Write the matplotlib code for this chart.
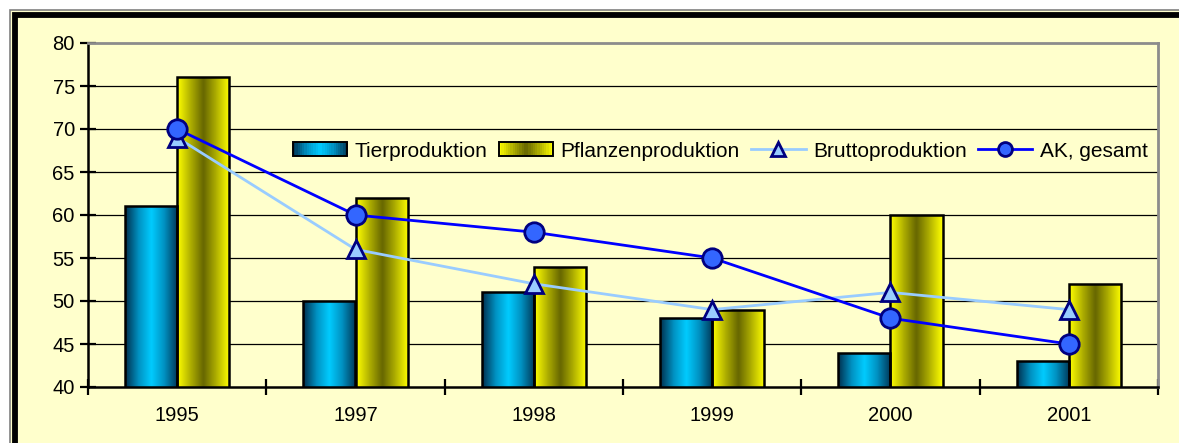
import matplotlib
matplotlib.use('Agg')
import matplotlib.pyplot as plt
import numpy as np
from matplotlib.patches import Rectangle
from matplotlib.colors import LinearSegmentedColormap
from matplotlib.legend_handler import HandlerBase
from matplotlib.lines import Line2D

plt.rcParams['font.family'] = ['Liberation Sans', 'DejaVu Sans']

years  = ['1995', '1997', '1998', '1999', '2000', '2001']
tier   = [61, 50, 51, 48, 44, 43]
pflanz = [76, 62, 54, 49, 60, 52]
brutto = [69, 56, 52, 49, 51, 49]
ak     = [70, 60, 58, 55, 48, 45]

bg = '#FFFFCC'
cm_blue = LinearSegmentedColormap.from_list('b', ['#00304f', '#0090c0', '#00ccff', '#0090c0', '#003858'])
cm_yell = LinearSegmentedColormap.from_list('y', ['#ffff00', '#b0b000', '#666600', '#b0b000', '#ffff00'])
grad = np.linspace(0, 1, 64).reshape(1, -1)

W, H = 1179, 443
fig = plt.figure(figsize=(W/100, H/100), dpi=100, facecolor='white')

# outer frame (runs off right and bottom edge)
fig.patches.append(Rectangle((10/W, -0.2), 1.2, (H - 10)/H + 0.2, transform=fig.transFigure,
                             facecolor=bg, edgecolor='#808080', lw=1.2, zorder=-2))
fig.patches.append(Rectangle((14.5/W, -0.2), 1.2, (H - 14.5)/H + 0.2, transform=fig.transFigure,
                             facecolor='none', edgecolor='black', lw=4.2, zorder=-1))

ax = fig.add_axes([88/W, (H - 387)/H, (1158 - 88)/W, (387 - 43)/H])
ax.set_facecolor(bg)

x = np.arange(len(years))
w = 0.292

def gradient_bars(xs, vals, cmap):
    bars = ax.bar(xs, vals, width=w, bottom=0, color='none', edgecolor='black', lw=1.8, zorder=3)
    for b in bars:
        x0, x1 = b.get_x(), b.get_x() + b.get_width()
        im = ax.imshow(grad, cmap=cmap, aspect='auto', extent=[x0, x1, 40, b.get_height()],
                       zorder=2, interpolation='bicubic')
        im.set_clip_path(b)
    return bars

gradient_bars(x - w/2, tier, cm_blue)
gradient_bars(x + w/2, pflanz, cm_yell)

ax.plot(x, brutto, color='#99ccff', lw=2, marker='^', ms=13, mfc='#99ccff', mec='#000080',
        mew=2, zorder=4)
ax.plot(x, ak, color='#0000ff', lw=2, marker='o', ms=14, mfc='#3366ff', mec='#000080',
        mew=2, zorder=5)

ax.set_xlim(-0.5, 5.5)
ax.set_ylim(40, 80)
ax.set_yticks(range(40, 81, 5))
for yv in range(45, 80, 5):
    ax.axhline(yv, color='black', lw=0.9, zorder=1)

ax.set_xticks(x)
ax.set_xticklabels(years)
ax.set_xticks(np.arange(-0.5, 6, 1), minor=True)
ax.tick_params(axis='x', which='major', length=0, pad=14, labelsize=14.5)
ax.tick_params(axis='x', which='minor', direction='inout', length=11, width=1.6)
ax.tick_params(axis='y', direction='inout', length=11, width=1.6, labelsize=14.5, pad=4)

for s in ['left', 'bottom']:
    ax.spines[s].set_color('black')
    ax.spines[s].set_linewidth(1.8)
for s in ['top', 'right']:
    ax.spines[s].set_color('#8c8c8c')
    ax.spines[s].set_linewidth(2)
ax.spines['bottom'].set_zorder(6)

class GradHandler(HandlerBase):
    def __init__(self, cmap):
        super().__init__()
        self.cmap = cmap
    def create_artists(self, legend, orig, xd, yd, width, height, fontsize, trans):
        arts = []
        n = 24
        for i in range(n):
            c = self.cmap((i + 0.5) / n)
            arts.append(Rectangle((xd + width*i/n, yd + 0.5), width/n + 0.3, height - 1,
                                  facecolor=c, edgecolor='none', transform=trans))
        arts.append(Rectangle((xd, yd + 0.5), width, height - 1, facecolor='none',
                              edgecolor='black', lw=1.4, transform=trans))
        return arts

h1 = Rectangle((0, 0), 1, 1)
h2 = Rectangle((0, 0), 1, 1)
h3 = Line2D([], [], color='#99ccff', lw=2, marker='^', ms=10, mfc='#99ccff', mec='#000080', mew=2)
h4 = Line2D([], [], color='#0000ff', lw=2, marker='o', ms=10, mfc='#3366ff', mec='#000080', mew=2)
ax.legend([h1, h2, h3, h4], ['Tierproduktion', 'Pflanzenproduktion', 'Bruttoproduktion', 'AK, gesamt'],
          handler_map={h1: GradHandler(cm_blue), h2: GradHandler(cm_yell)},
          loc='center left', bbox_to_anchor=(205/1070, 0.686), ncol=4, frameon=False, fontsize=15,
          borderpad=0, borderaxespad=0,
          handlelength=2.6, handleheight=0.72, handletextpad=0.36, columnspacing=0.55)

fig.savefig('out.png', dpi=100, facecolor='white')
